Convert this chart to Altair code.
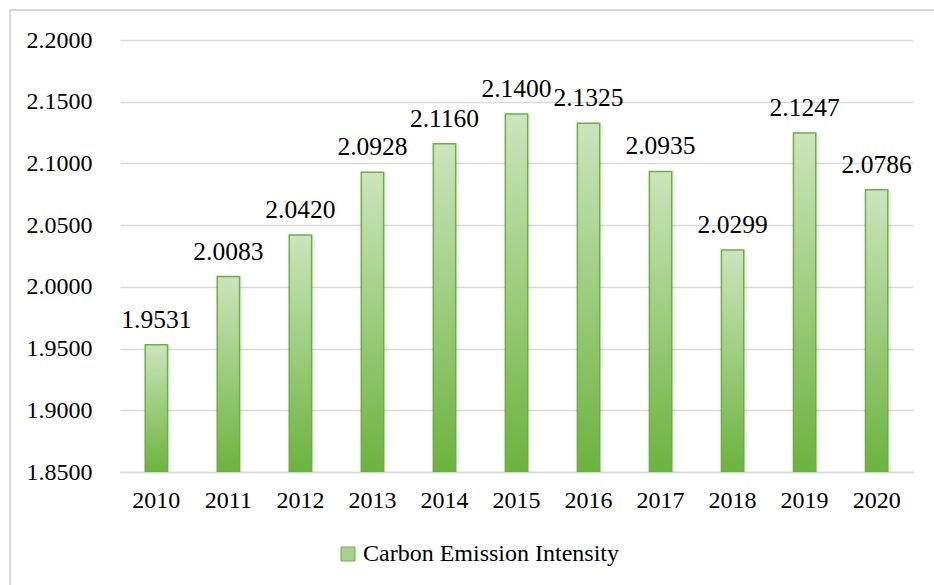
import altair as alt
import pandas as pd

years = ["2010", "2011", "2012", "2013", "2014", "2015",
         "2016", "2017", "2018", "2019", "2020"]
intensity = [1.9531, 2.0083, 2.0420, 2.0928, 2.1160, 2.1400,
             2.1325, 2.0935, 2.0299, 2.1247, 2.0786]
series_name = "Carbon Emission Intensity"

df = pd.DataFrame({"year": years, "value": intensity, "series": series_name})

FONT = "Times New Roman, Liberation Serif, serif"

x_enc = alt.X("year:N", sort=years, title=None,
              scale=alt.Scale(paddingInner=0.69, paddingOuter=0.35),
              axis=alt.Axis(labelAngle=0, labelFontSize=24, labelFont=FONT,
                            labelColor="#000000", labelPadding=16, ticks=False,
                            domainColor="#d9d9d9", domainWidth=1.5))
y_enc = alt.Y("value:Q", title=None,
              scale=alt.Scale(domain=[1.85, 2.2], nice=False, zero=False),
              axis=alt.Axis(values=[1.85, 1.9, 1.95, 2.0, 2.05, 2.1, 2.15, 2.2],
                            format=".4f", labelFontSize=24, labelFont=FONT,
                            labelColor="#000000", labelPadding=28, ticks=False,
                            domain=False, gridColor="#d9d9d9", gridWidth=1.5))

green_fill = alt.Gradient(
    gradient="linear", x1=0, y1=0, x2=0, y2=1,
    stops=[alt.GradientStop(offset=0, color="#cbe5bc"),
           alt.GradientStop(offset=1, color="#6cb33e")])

base = alt.Chart(df)

# soft drop shadow to the right of each bar
shadow = base.mark_bar(color="#000000", opacity=0.07, xOffset=3, clip=True).encode(
    x=x_enc, y=y_enc, y2=alt.datum(1.85))

bars = base.mark_bar(fill=green_fill, stroke="#70ad47", strokeWidth=1.5, clip=True).encode(
    x=x_enc, y=y_enc, y2=alt.datum(1.85),
    color=alt.Color("series:N", title=None,
                    scale=alt.Scale(range=["#a9d18e"]),
                    legend=alt.Legend(orient="none", legendX=216, legendY=502,
                                      symbolType="square", symbolSize=196,
                                      symbolStrokeColor="#70ad47", symbolStrokeWidth=1,
                                      symbolOpacity=1, labelLimit=0,
                                      labelFontSize=24, labelFont=FONT,
                                      labelColor="#000000", labelOffset=3)))

labels = base.transform_calculate(
    label="format(datum.value, '.4f')"
).mark_text(fontSize=25.5, font=FONT, color="#000000",
            baseline="alphabetic", dy=-17).encode(
    x=x_enc, y=y_enc, text="label:N")

frame = alt.Chart(pd.DataFrame({"k": [0]})).mark_rect(
    fill=None, stroke="#d9d9d9", strokeWidth=2).encode(
    x=alt.value(-110), y=alt.value(-30), x2=alt.value(900), y2=alt.value(650))

chart = alt.layer(frame, shadow, bars, labels).properties(
    width=793, height=432,
    autosize=alt.AutoSizeParams(type="none"),
    padding={"left": 120, "top": 40, "right": 21, "bottom": 113},
    background="#ffffff",
).configure(font=FONT).configure_view(stroke=None)

chart.save("out.html", embed_options={"renderer": "svg", "actions": False})
